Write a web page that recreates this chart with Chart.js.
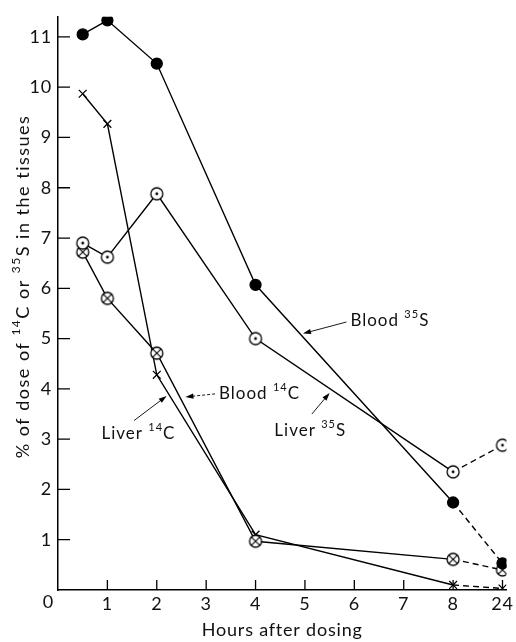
<!DOCTYPE html>
<html>
<head>
<meta charset="utf-8">
<script src="https://cdn.jsdelivr.net/npm/chart.js@4.4.1/dist/chart.umd.min.js"></script>
<style>
  html, body { margin: 0; background: #fff; }
  #wrap { width: 516px; height: 642px; }
</style>
</head>
<body>
<div id="wrap"><canvas id="chart"></canvas></div>
<script>
// sampling times (h) and % of dose in the tissues
const hours = [0.5, 1, 2, 4, 8, 24];
const bloodS35 = [11.05, 11.33, 10.47, 6.07, 1.74, 0.53];
const liverS35 = [6.9, 6.62, 7.88, 5.0, 2.35, 2.88];
const liverC14 = [6.72, 5.8, 4.71, 0.97, 0.61, 0.4];
const bloodC14 = [9.87, 9.27, 4.28, 1.1, 0.1, 0.03];
const xTickLabels = ['0', '1', '2', '3', '4', '5', '6', '7', '8', '24'];

const FONT = 'Lato';

// the axis is broken after 8 h: 24 h sits one step after 8
const axisPos = h => (h <= 8 ? h : 9);
const toPoints = vals => hours.map((h, i) => ({ x: axisPos(h), y: vals[i] }));

function makeMarker(kind) {
  const r = 6, s = 18;
  const c = document.createElement('canvas');
  c.width = s; c.height = s;
  const g = c.getContext('2d');
  g.translate(s / 2, s / 2);
  g.beginPath();
  g.arc(0, 0, r, 0, Math.PI * 2);
  g.fillStyle = '#fff';
  g.fill();
  g.lineWidth = 1.3;
  g.strokeStyle = '#000';
  g.stroke();
  if (kind === 'dot') {
    g.beginPath();
    g.arc(0, 0, 1.4, 0, Math.PI * 2);
    g.fillStyle = '#000';
    g.fill();
  } else {
    const k = r * 0.7;
    g.beginPath();
    g.moveTo(-k, -k); g.lineTo(k, k);
    g.moveTo(k, -k); g.lineTo(-k, k);
    g.lineWidth = 1.1;
    g.stroke();
  }
  return c;
}

const dashLast = { borderDash: ctx => (ctx.p1DataIndex === hours.length - 1 ? [6, 4] : undefined) };

function series(vals, style, extra) {
  return Object.assign({
    data: toPoints(vals),
    borderColor: '#000',
    borderWidth: 1.4,
    pointStyle: style,
    pointRadius: 5,
    pointBorderColor: '#000',
    pointBackgroundColor: '#fff',
    pointBorderWidth: 1.3,
    segment: dashLast,
    tension: 0
  }, extra || {});
}

// labels with arrows, placed in axis units
const notes = [
  { parts: [['Blood'], [' '], ['35', true], ['S']], at: [5.92, 5.35], arrow: [[5.84, 5.33], [4.96, 5.1]] },
  { parts: [['Liver'], [' '], ['35', true], ['S']], at: [4.38, 3.17], arrow: [[5.14, 3.5], [5.5, 3.92]] },
  { parts: [['Blood'], [' '], ['14', true], ['C']], at: [3.26, 3.9], arrow: [[3.18, 3.9], [2.58, 3.84]], dash: [3, 2] },
  { parts: [['Liver'], [' '], ['14', true], ['C']], at: [0.88, 3.11], arrow: [[1.54, 3.37], [2.2, 3.86]] }
];

function richWidth(ctx, parts, size) {
  let w = 0;
  parts.forEach(([t, sup]) => {
    ctx.font = (sup ? Math.round(size * 0.66) : size) + 'px ' + FONT;
    w += ctx.measureText(t).width;
  });
  return w;
}

function drawRich(ctx, parts, x, y, size) {
  let cx = x;
  ctx.textBaseline = 'middle';
  ctx.textAlign = 'left';
  parts.forEach(([t, sup]) => {
    ctx.font = (sup ? Math.round(size * 0.66) : size) + 'px ' + FONT;
    ctx.fillText(t, cx, sup ? y - size * 0.38 : y);
    cx += ctx.measureText(t).width;
  });
}

const extras = {
  id: 'extras',
  beforeDraw(chart) {
    chart.ctx.letterSpacing = '0.8px';
  },
  afterDraw(chart) {
    const { ctx, scales: { x, y } } = chart;
    ctx.save();
    ctx.strokeStyle = '#000';
    ctx.fillStyle = '#111';
    ctx.lineWidth = 1.3;

    // inward tick marks
    ctx.beginPath();
    for (let v = 1; v <= 9; v++) {
      const px = x.getPixelForValue(v);
      ctx.moveTo(px, y.bottom); ctx.lineTo(px, y.bottom - 10);
    }
    for (let v = 1; v <= 11; v++) {
      const py = y.getPixelForValue(v);
      ctx.moveTo(x.left, py); ctx.lineTo(x.left + 12, py);
    }
    ctx.stroke();

    // shared origin label
    ctx.letterSpacing = '0px';
    ctx.font = '18px ' + FONT;
    ctx.textAlign = 'center';
    ctx.textBaseline = 'middle';
    ctx.fillText('0', x.left - 10, y.bottom + 12);

    // y axis title with superscripts
    ctx.letterSpacing = '1.5px';
    const tparts = [['% of dose of '], ['14', true], ['C or '], ['35', true], ['S in the tissues']];
    const tw = richWidth(ctx, tparts, 18);
    ctx.save();
    ctx.translate(23, (y.top + y.bottom) / 2 - 17);
    ctx.rotate(-Math.PI / 2);
    drawRich(ctx, tparts, -tw / 2, 0, 18);
    ctx.restore();

    // curve labels and arrows
    ctx.letterSpacing = '1px';
    notes.forEach(n => {
      ctx.fillStyle = '#111';
      drawRich(ctx, n.parts, x.getPixelForValue(n.at[0]), y.getPixelForValue(n.at[1]), 17);
      const [a, b] = n.arrow;
      const x1 = x.getPixelForValue(a[0]), y1 = y.getPixelForValue(a[1]);
      const x2 = x.getPixelForValue(b[0]), y2 = y.getPixelForValue(b[1]);
      const ang = Math.atan2(y2 - y1, x2 - x1);
      ctx.lineWidth = 0.9;
      ctx.setLineDash(n.dash || []);
      ctx.beginPath();
      ctx.moveTo(x1, y1);
      ctx.lineTo(x2 - 5 * Math.cos(ang), y2 - 5 * Math.sin(ang));
      ctx.stroke();
      ctx.setLineDash([]);
      ctx.fillStyle = '#000';
      ctx.beginPath();
      ctx.moveTo(x2, y2);
      ctx.lineTo(x2 - 8 * Math.cos(ang) + 2.6 * Math.sin(ang), y2 - 8 * Math.sin(ang) - 2.6 * Math.cos(ang));
      ctx.lineTo(x2 - 8 * Math.cos(ang) - 2.6 * Math.sin(ang), y2 - 8 * Math.sin(ang) + 2.6 * Math.cos(ang));
      ctx.closePath();
      ctx.fill();
    });
    ctx.restore();
  }
};

new Chart(document.getElementById('chart'), {
  type: 'line',
  data: {
    datasets: [
      series(bloodS35, 'circle', { pointBackgroundColor: '#000', pointRadius: 5.5 }),
      series(liverS35, makeMarker('dot')),
      series(liverC14, makeMarker('cross')),
      series(bloodC14, 'crossRot', { pointRadius: 5.5 })
    ]
  },
  options: {
    responsive: true,
    maintainAspectRatio: false,
    animation: false,
    layout: { padding: { top: 14, right: 4 } },
    plugins: { legend: { display: false }, tooltip: { enabled: false } },
    scales: {
      x: {
        type: 'linear',
        min: 0,
        max: 9.08,
        afterFit: s => { s.height = 52; },
        border: { display: true, color: '#000', width: 1.5 },
        grid: { display: true, drawOnChartArea: false, drawTicks: false },
        ticks: {
          stepSize: 1,
          includeBounds: false,
          autoSkip: false,
          maxRotation: 0,
          padding: 3,
          color: '#111',
          font: { family: FONT, size: 18 },
          callback: v => (v === 0 ? '' : xTickLabels[v])
        },
        title: {
          display: true,
          text: 'Hours after dosing',
          color: '#111',
          font: { family: FONT, size: 18 },
          padding: { top: 0, bottom: 1 }
        }
      },
      y: {
        min: 0,
        max: 11.4,
        afterFit: s => { s.width = 58; },
        border: { display: true, color: '#000', width: 1.5 },
        grid: { display: true, drawOnChartArea: false, drawTicks: false },
        ticks: {
          stepSize: 1,
          includeBounds: false,
          padding: 6,
          color: '#111',
          font: { family: FONT, size: 18 },
          callback: v => (v === 0 ? '' : v)
        }
      }
    }
  },
  plugins: [extras]
});
</script>
</body>
</html>
